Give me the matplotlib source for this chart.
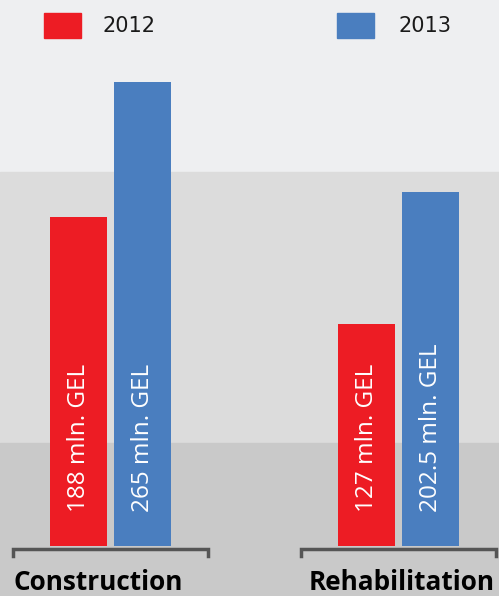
import matplotlib.pyplot as plt
import matplotlib.patches as mpatches
import numpy as np

categories = ['Construction', 'Rehabilitation']
years = ['2012', '2013']
values_2012 = [188, 127]
values_2013 = [265, 202.5]
labels_2012 = ['188 mln. GEL', '127 mln. GEL']
labels_2013 = ['265 mln. GEL', '202.5 mln. GEL']

red = '#ed1c24'
blue = '#4a7ebf'

W, H = 499, 596
fig = plt.figure(figsize=(W / 100, H / 100), dpi=100)

# background bands (pixel rows from top)
bands = [(0, 172, '#eeeff1'), (172, 443, '#dcdcdc'), (443, 596, '#c9c9c9')]
for top, bot, c in bands:
    fig.patches.append(mpatches.Rectangle((0, 1 - bot / H), 1, (bot - top) / H,
                                          transform=fig.transFigure, color=c, zorder=-5))

base_px = 546
ax = fig.add_axes([0, (H - base_px) / H, 1, base_px / H])
ax.set_zorder(2)
ax.set_facecolor('none')
px_per_unit = 1.75
ax.set_ylim(0, base_px / px_per_unit)
ax.set_xlim(-110.5 / 288, (W - 110.5) / 288)
ax.axis('off')

x = np.arange(len(categories))
w = 0.2
off = 0.111
ax.bar(x - off, values_2012, w, color=red)
ax.bar(x + off, values_2013, w, color=blue)

label_y = (base_px - 512) / px_per_unit
for xs, labs in [(x - off, labels_2012), (x + off, labels_2013)]:
    for xi, lab in zip(xs, labs):
        ax.text(xi + 0.002, label_y, lab, rotation=90, rotation_mode='anchor',
                ha='left', va='center', color='white', fontsize=17.5,
                family='Open Sans')

# brackets under each group
for xi in x:
    l, r = xi - 98 / 288, xi + 97 / 288
    ax.plot([l, l, r, r], [-5.5, -1.5, -1.5, -5.5], color='#555555', lw=2.5,
            clip_on=False, solid_joinstyle='miter')

for xi, cat, dx in zip(x, categories, [-12, 3.5]):
    ax.text(xi + dx / 288, -(583 - base_px) / px_per_unit, cat, ha='center',
            va='center', fontsize=18.8, fontweight='bold', family='Open Sans',
            clip_on=False)

# legend: coloured squares with year labels
for (lx, tx), yr, c in zip([(44, 102), (337, 399)], years, [red, blue]):
    fig.patches.append(mpatches.Rectangle((lx / W, 1 - 38 / H), 37 / W, 25 / H,
                                          transform=fig.transFigure, color=c, zorder=3))
    fig.text(tx / W, 1 - 26 / H, yr, ha='left', va='center', fontsize=15,
             color='#1a1a1a', family='DejaVu Sans', fontweight='medium')

fig.savefig('out.png', dpi=100)
